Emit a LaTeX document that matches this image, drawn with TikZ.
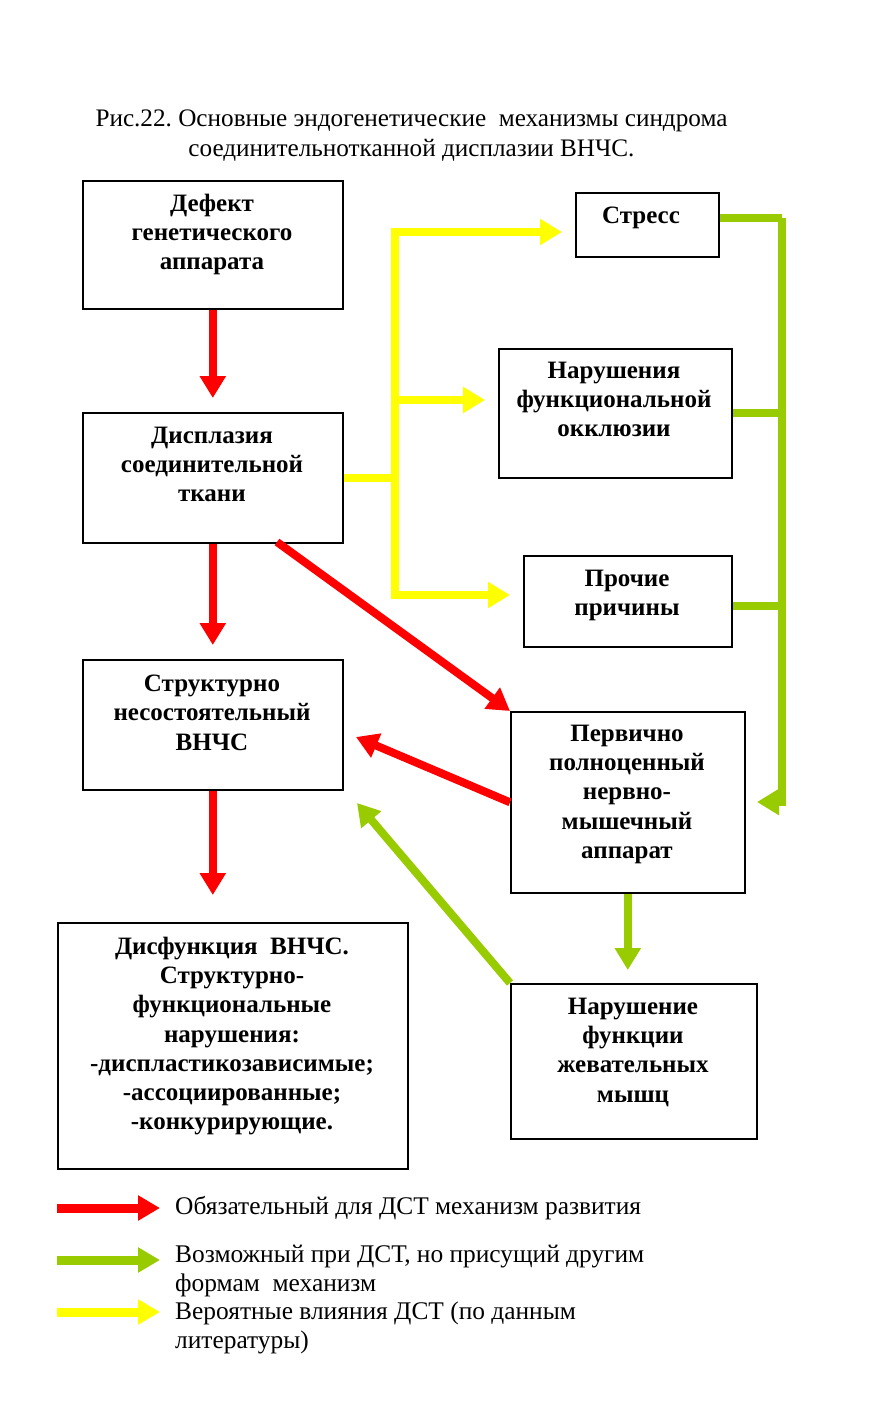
\documentclass[tikz,border=0pt]{standalone}
\usepackage{fontspec}
\setmainfont{Liberation Serif}
\usetikzlibrary{arrows.meta,calc}
\definecolor{cred}{HTML}{FF0000}
\definecolor{cgreen}{HTML}{99CC00}
\definecolor{cyellow}{HTML}{FFFF00}
\frenchspacing
\begin{document}
\begin{tikzpicture}[x=1pt,y=-1pt,
  box/.style={draw, line width=1.6pt, anchor=north west, inner sep=0pt, rectangle},
  btext/.style={anchor=north, align=center, inner sep=0pt, font=\bfseries\fontsize{25}{29.2}\selectfont},
  ttext/.style={anchor=north, align=center, inner sep=0pt, font=\fontsize{25.2}{30}\selectfont},
  ltext/.style={anchor=north west, align=left, inner sep=0pt, font=\fontsize{25.4}{29}\selectfont},
  rarrow/.style={draw=cred, line width=8pt, -{Triangle[width=25pt,length=22pt]}, color=cred},
  garrow/.style={draw=cgreen, line width=8pt, -{Triangle[width=25pt,length=22pt]}, color=cgreen},
  yarrow/.style={draw=cyellow, line width=8pt, -{Triangle[width=25pt,length=22pt]}, color=cyellow},
  gline/.style={draw=cgreen, line width=8pt},
  yline/.style={draw=cyellow, line width=8pt},
  legarrow/.style={line width=9pt, -{Triangle[width=24pt,length=22pt]}},
]
\useasboundingbox[fill=white] (0,0) rectangle (879,1428);

% title
\node[ttext] (title) at (411.5,110) {Рис.22. Основные эндогенетические\ \ механизмы синдрома\\соединительнотканной дисплазии ВНЧС.};

% boxes
\node[box, minimum width=260pt, minimum height=128pt] (b1) at (82,180) {};
\node[box, minimum width=260pt, minimum height=130pt] (b2) at (82,412) {};
\node[box, minimum width=260pt, minimum height=130pt] (b3) at (82,659) {};
\node[box, minimum width=350pt, minimum height=246pt] (b4) at (57,922) {};
\node[box, minimum width=143pt, minimum height=64pt] (b5) at (575,192) {};
\node[box, minimum width=233pt, minimum height=129pt] (b6) at (498,348) {};
\node[box, minimum width=208pt, minimum height=91pt] (b7) at (523,555) {};
\node[box, minimum width=234pt, minimum height=181pt] (b8) at (510,711) {};
\node[box, minimum width=246pt, minimum height=155pt] (b9) at (510,983) {};

% box texts
\node[btext] (t1) at (212,194) {Дефект\\генетического\\аппарата};
\node[btext] (t2) at (212,427) {Дисплазия\\соединительной\\ткани};
\node[btext] (t3) at (212,675) {Структурно\\несостоятельный\\ВНЧС};
\node[btext] (t4) at (232,937) {Дисфункция\ \ ВНЧС.\\Структурно-\\функциональные\\нарушения:\\-диспластикозависимые;\\-ассоциированные;\\-конкурирующие.};
\node[btext] (t5) at (641,207) {Стресс};
\node[btext] (t6) at (614,362) {Нарушения\\функциональной\\окклюзии};
\node[btext] (t7) at (627,570) {Прочие\\причины};
\node[btext] (t8) at (627,725) {Первично\\полноценный\\нервно-\\мышечный\\аппарат};
\node[btext] (t9) at (633,998) {Нарушение\\функции\\жевательных\\мышц};

% red arrows
\draw[rarrow, shorten >=14pt] (b1.south) -- (b2.north);
\draw[rarrow, shorten >=14pt] (b2.south) -- (b3.north);
\draw[rarrow, shorten >=27pt] (b3.south) -- (b3.south |- b4.north);
\coordinate (r1) at (277,542);
\draw[rarrow] (r1) -- (b8.north west);
\coordinate (r2) at (356,737);
\draw[rarrow] (b8.west) -- (r2);

% green arrows
\coordinate (g3) at (357,803);
\draw[garrow] (b9.north west) -- (g3);
\draw[garrow, shorten >=13pt] (b8.south) -- (b8.south |- b9.north);
\coordinate (g1) at (782,218);
\coordinate (g2) at (782,606);
\coordinate (gb) at (782,802);
\coordinate (ge) at (757,802);
\draw[gline] (b5.east |- g1) -- (g1);
\draw[gline] (b6.east) -- (b6.east -| g1);
\draw[gline] (b7.east |- g2) -- (g2);
\draw[garrow, line join=miter] (g1) -- (gb) -- (ge);

% yellow arrows
\coordinate (yt) at (395,232);
\coordinate (ym) at (395,400);
\coordinate (yb) at (395,595);
\draw[yline] (b2.east) -- (b2.east -| yt);
\draw[yarrow, line join=miter, shorten >=13pt] (yb) -- (yt) -- (yt -| b5.west);
\draw[yarrow, shorten >=13pt] (ym) -- (ym -| b6.west);
\draw[yarrow, line join=miter, shorten >=13pt] (ym) -- (yb) -- (yb -| b7.west);

% legend
\coordinate (l1a) at (57,1208); \coordinate (l1b) at (160,1208);
\coordinate (l2a) at (57,1260); \coordinate (l2b) at (160,1260);
\coordinate (l3a) at (57,1312); \coordinate (l3b) at (160,1312);
\draw[legarrow, draw=cred, color=cred] (l1a) -- (l1b);
\draw[legarrow, draw=cgreen, color=cgreen] (l2a) -- (l2b);
\draw[legarrow, draw=cyellow, color=cyellow] (l3a) -- (l3b);
\node[ltext] (lt1) at (175,1196) {Обязательный для ДСТ механизм развития};
\node[ltext] (lt2) at (175,1245) {Возможный при ДСТ, но присущий другим\\формам\ \ механизм};
\node[ltext] (lt3) at (175,1302) {Вероятные влияния ДСТ (по данным\\литературы)};
\end{tikzpicture}
\end{document}
